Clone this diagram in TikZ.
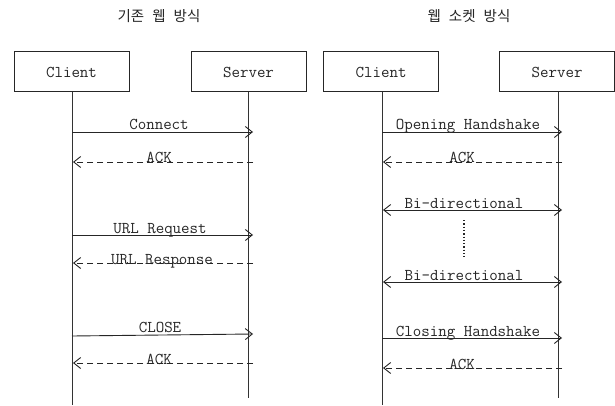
\documentclass[tikz,border=0pt]{standalone}
\usepackage{fontspec}
\newfontfamily\krfont{Noto Sans CJK KR}
\usetikzlibrary{arrows.meta}
\begin{document}
\begin{tikzpicture}[x=1pt,y=-1pt,
  actor/.style={draw=black!85, line width=1pt, minimum width=115pt, minimum height=40pt, inner sep=0pt,
    font=\ttfamily\fontsize{16.5}{18}\selectfont, text=black!85},
  life/.style={draw=black!80, line width=0.9pt},
  msg/.style={draw=black!85, line width=0.9pt, -{Straight Barb[length=7pt,width=11pt]}},
  bimsg/.style={msg, {Straight Barb[length=7pt,width=11pt]}-{Straight Barb[length=7pt,width=11pt]}},
  reply/.style={msg, dash pattern=on 6pt off 4pt},
  lbl/.style={font=\ttfamily\fontsize{16.5}{18}\selectfont, text=black!85, inner sep=0pt, anchor=base},
  title/.style={font=\krfont\fontsize{14.5}{16}\selectfont, text=black!85, inner sep=0pt}
]
\fill[white] (0,0) rectangle (615,406);
\useasboundingbox (0,0) rectangle (615,406);

% titles
\node[title] (t1) at (159,16) {기존\hspace{8pt}웹\hspace{8pt}방식};
\node[title] (t2) at (469,16) {웹\hspace{8pt}소켓\hspace{8pt}방식};

% actor boxes
\node[actor] (c1) at (71.5,72) {Client};
\node[actor] (s1) at (248.5,72) {Server};
\node[actor] (c2) at (381,72) {Client};
\node[actor] (s2) at (557,72) {Server};

% lifeline ends
\coordinate (c1e) at (72,405);
\coordinate (s1e) at (248,398);
\coordinate (c2e) at (382,405);
\coordinate (s2e) at (558,398);
\draw[life] (c1.south -| c1e) -- (c1e);
\draw[life] (s1.south -| s1e) -- (s1e);
\draw[life] (c2.south -| c2e) -- (c2e);
\draw[life] (s2.south -| s2e) -- (s2e);

% left messages
\coordinate (a1) at (72,132);  \coordinate (b1) at (253,132);
\coordinate (a2) at (73,162);  \coordinate (b2) at (253,162);
\coordinate (a3) at (72,235);  \coordinate (b3) at (253,235);
\coordinate (a4) at (73,263);  \coordinate (b4) at (253,263);
\coordinate (a5) at (72,336);  \coordinate (b5) at (253,334);
\coordinate (a6) at (73,363);  \coordinate (b6) at (253,363);
\draw[msg] (a1) -- (b1);
\draw[reply] (b2) -- (a2);
\draw[msg] (a3) -- (b3);
\draw[reply] (b4) -- (a4);
\draw[msg] (a5) -- (b5);
\draw[reply] (b6) -- (a6);
\node[lbl] (l1) at (159,130) {Connect};
\node[lbl] (l2) at (159,163) {ACK};
\node[lbl] (l3) at (160,233) {URL Request};
\node[lbl] (l4) at (162,264) {URL Response};
\node[lbl] (l5) at (160,332) {CLOSE};
\node[lbl] (l6) at (159,364) {ACK};

% right messages
\coordinate (d1) at (382,132); \coordinate (e1) at (562,132);
\coordinate (d2) at (383,162); \coordinate (e2) at (562,162);
\coordinate (d3) at (383,210); \coordinate (e3) at (562,210);
\coordinate (d4) at (383,282); \coordinate (e4) at (562,282);
\coordinate (d5) at (382,338); \coordinate (e5) at (562,338);
\coordinate (d6) at (383,368); \coordinate (e6) at (562,368);
\draw[msg] (d1) -- (e1);
\draw[reply] (e2) -- (d2);
\draw[bimsg] (d3) -- (e3);
\draw[bimsg] (d4) -- (e4);
\draw[msg] (d5) -- (e5);
\draw[reply] (e6) -- (d6);
\node[lbl] (r1) at (468,130) {Opening Handshake};
\node[lbl] (r2) at (462,163) {ACK};
\node[lbl] (r3) at (464,208) {Bi-directional};
\node[lbl] (r4) at (464,280) {Bi-directional};
\node[lbl] (r5) at (468,336) {Closing Handshake};
\node[lbl] (r6) at (462,369) {ACK};

% dotted continuation
\coordinate (v1) at (464,220);
\coordinate (v2) at (464,257);
\draw[black!85, line width=1.3pt, dash pattern=on 1.3pt off 2pt] (v1) -- (v2);
\end{tikzpicture}
\end{document}
